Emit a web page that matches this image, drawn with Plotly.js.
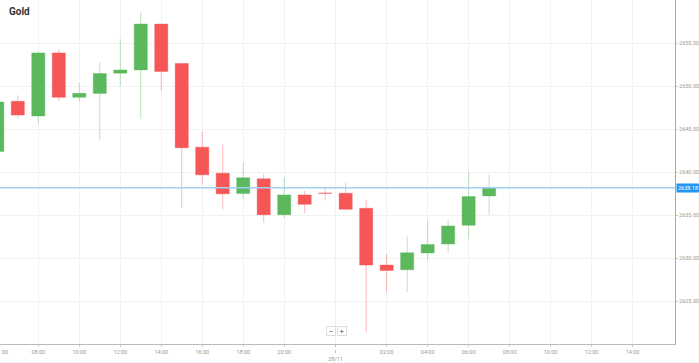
<!DOCTYPE html>
<html>
<head>
<meta charset="utf-8">
<script src="https://cdn.plot.ly/plotly-3.0.1.min.js"></script>
<style>html,body{margin:0;padding:0;background:#fff;}#chart{width:699px;height:363px;}</style>
</head>
<body>
<div id="chart"></div>
<script>
// hourly candles, 27/11 06:00 .. 28/11 07:00 (23:00 break skipped)
const hours = ['06:00','07:00','08:00','09:00','10:00','11:00','12:00','13:00','14:00','15:00','16:00','17:00','18:00','19:00','20:00','21:00','22:00',
               '00:00','01:00','02:00','03:00','04:00','05:00','06:00','07:00'];
const openP  = [2642.39,2648.22,2646.51,2653.85,2648.69,2649.12,2651.49,2651.87,2657.20,2652.62,2642.89,2639.86,2637.49,2639.21,2635.04,2637.34,2637.53,
                2637.53,2635.78,2629.18,2628.63,2630.58,2631.63,2633.80,2637.22];
const highP  = [2648.60,2648.92,2654.05,2654.29,2650.36,2652.77,2655.45,2658.60,2657.20,2652.65,2644.72,2643.21,2641.14,2639.79,2639.39,2637.84,2638.23,
                2638.74,2636.76,2630.46,2632.48,2634.38,2634.46,2639.94,2639.71];
const lowP   = [2641.90,2646.27,2645.54,2648.26,2648.14,2643.67,2649.97,2646.16,2649.42,2635.83,2638.51,2635.66,2636.87,2634.08,2634.61,2635.20,2636.68,
                2635.59,2621.32,2625.98,2626.03,2629.71,2630.58,2632.21,2635.01];
const closeP = [2648.14,2646.62,2653.85,2648.69,2649.15,2651.45,2651.87,2657.20,2651.69,2642.82,2639.67,2637.46,2639.32,2635.04,2637.34,2636.24,2637.525,
                2635.66,2629.18,2628.55,2630.61,2631.58,2633.73,2637.14,2638.18];
const currentPrice = 2638.18;
const tickLabels = ['08:00','10:00','12:00','14:00','16:00','18:00','20:00','<br>28/11','02:00','04:00','06:00','08:00','10:00','12:00','14:00'];
const tickSlots  = [2,4,6,8,10,12,14,16.5,19,21,23,25,27,29,31];
const priceTicks = [2625,2630,2635,2640,2645,2650,2655];

const xIdx = hours.map((_, i) => i);

const trace = {
  type: 'candlestick',
  x: xIdx, open: openP, high: highP, low: lowP, close: closeP,
  increasing: {fillcolor: '#5cb85c', line: {color: 'rgba(92,184,92,0.4)', width: 1}},
  decreasing: {fillcolor: '#f65656', line: {color: 'rgba(246,86,86,0.4)', width: 1}},
  whiskerwidth: 0,
  hoverinfo: 'none'
};

const font = 'Roboto, "Open Sans", sans-serif';
const layout = {
  width: 699, height: 363,
  margin: {l: 0, r: 24, t: 0, b: 19, pad: 0},
  paper_bgcolor: '#fff', plot_bgcolor: '#fff',
  showlegend: false,
  boxgap: 0.2, boxgroupgap: 0.2,
  title: {text: '<b>Gold</b>', x: 9/699, y: 1 - 11.5/363, xanchor: 'left', yanchor: 'middle',
          font: {family: font, size: 10, color: '#333'}},
  xaxis: {
    type: 'linear', range: [0.131, 33.07], fixedrange: true,
    rangeslider: {visible: false},
    tickvals: tickSlots, ticktext: tickLabels,
    showgrid: true, gridcolor: '#f2f2f2', gridwidth: 1,
    showline: true, linecolor: '#bbb', linewidth: 1,
    ticks: 'outside', ticklen: 2, tickcolor: '#ccc',
    tickfont: {family: font, size: 5.5, color: '#999'},
    zeroline: false
  },
  yaxis: {
    side: 'right', range: [2620, 2660], fixedrange: true,
    tickvals: priceTicks, tickformat: '.2f',
    showgrid: true, gridcolor: '#f2f2f2', gridwidth: 1,
    showline: true, linecolor: '#aaa', linewidth: 1,
    ticks: 'outside', ticklen: 2, tickcolor: '#ccc',
    tickfont: {family: font, size: 5.5, color: '#999'},
    zeroline: false
  },
  shapes: [
    {type: 'line', xref: 'x', yref: 'paper', x0: 16.5, x1: 16.5, y0: 0, y1: 1, line: {color: '#e4e4e4', width: 1}, layer: 'below'},
    {type: 'line', xref: 'paper', yref: 'y', x0: 0, x1: 1, y0: currentPrice, y1: currentPrice, line: {color: '#9fd2f3', width: 1.5}},
    {type: 'line', xref: 'paper', yref: 'paper', x0: 0, x1: 699/675, y0: -19/343, y1: -19/343, line: {color: '#e6e6e6', width: 1}},
    {type: 'line', xref: 'x', yref: 'paper', x0: 16.5, x1: 16.5, y0: 0, y1: -9/343, line: {color: '#bbb', width: 1, dash: 'dot'}}
  ],
  annotations: [
    {xref: 'paper', yref: 'y', x: 1, y: currentPrice, xanchor: 'left', yanchor: 'middle', xshift: 1,
     text: currentPrice.toFixed(2), showarrow: false, bgcolor: '#2196f3', borderpad: 1,
     font: {family: font, size: 5.5, color: '#fff'}},
    {xref: 'paper', yref: 'paper', x: 0, xanchor: 'left', y: 0, yanchor: 'top', yshift: -3, text: '00', showarrow: false,
     font: {family: font, size: 5.5, color: '#999'}},
    {xref: 'paper', yref: 'paper', x: 331/675, y: 8.3/343, text: '−', showarrow: false, width: 8, height: 8,
     bgcolor: '#fff', bordercolor: '#ddd', borderwidth: 1, borderpad: 0, font: {family: font, size: 8, color: '#555'}},
    {xref: 'paper', yref: 'paper', x: 342.3/675, y: 8.3/343, text: '+', showarrow: false, width: 8, height: 8,
     bgcolor: '#fff', bordercolor: '#ddd', borderwidth: 1, borderpad: 0, font: {family: font, size: 8, color: '#555'}}
  ]
};

Plotly.newPlot('chart', [trace], layout, {displayModeBar: false, staticPlot: true});
</script>
</body>
</html>
